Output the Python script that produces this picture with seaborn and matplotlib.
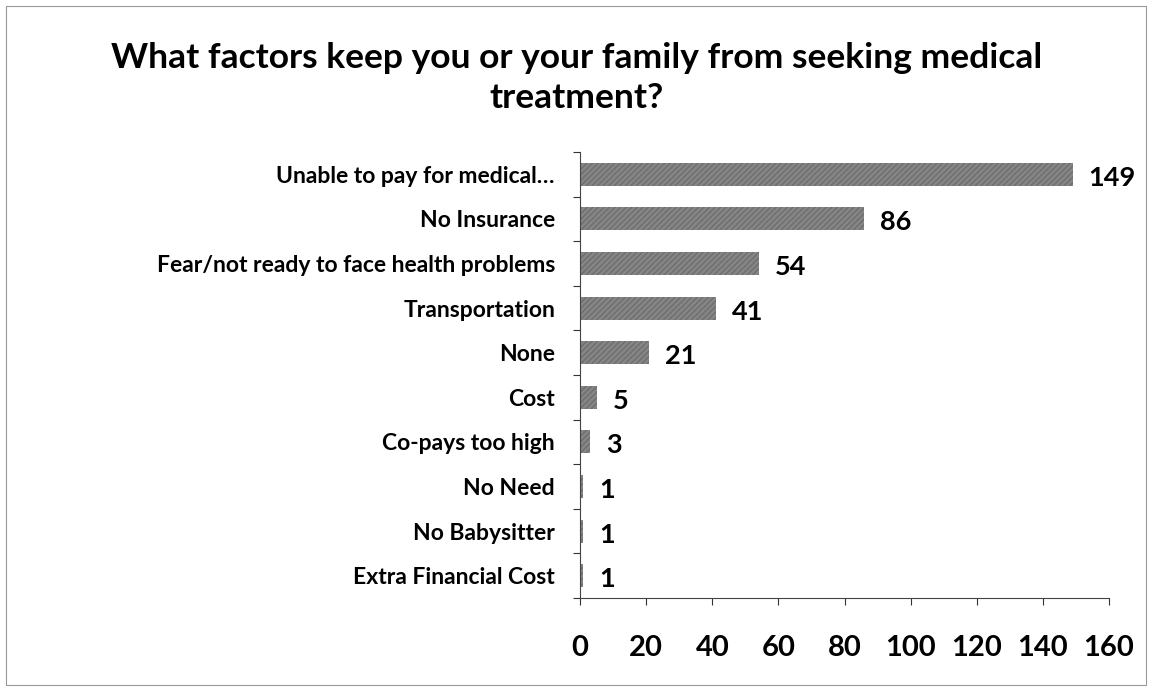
import matplotlib
matplotlib.use("Agg")
import matplotlib.pyplot as plt
import seaborn as sns
import pandas as pd
import numpy as np
from matplotlib.patches import Rectangle

categories = ["Unable to pay for medical…", "No Insurance", "Fear/not ready to face health problems",
              "Transportation", "None", "Cost", "Co-pays too high", "No Need", "No Babysitter",
              "Extra Financial Cost"]
values = [149, 86, 54, 41, 21, 5, 3, 1, 1, 1]
xticks = [0, 20, 40, 60, 80, 100, 120, 140, 160]
title_lines = ["What factors keep you or your family from seeking medical", "treatment?"]

sns.set_theme(style="white")
plt.rcParams['font.family'] = ['Lato', 'DejaVu Sans']
plt.rcParams['hatch.color'] = '#4a4a4a'
plt.rcParams['hatch.linewidth'] = 0.8

df = pd.DataFrame({"category": categories, "value": values})

fig = plt.figure(figsize=(11.54, 6.94), dpi=100)
ax = fig.add_axes([580/1154, 1-598/694, (1109-580)/1154, (598-152)/694])

sns.barplot(data=df, y="category", x="value", orient="h", ax=ax,
            color="#858585", width=0.52, saturation=1, edgecolor="#6a6a6a", linewidth=0)
for p in ax.patches:
    p.set_hatch("//////")

W = "bold"
ax.set_xlim(0, 160)
ax.set_ylim(len(categories) - 0.5, -0.5)
ax.set_xticks(xticks)
ax.set_xticklabels([str(t) for t in xticks], fontsize=21, fontweight=W, color="black")
ax.tick_params(axis="x", direction="out", length=5, width=0.8, color="#333", pad=22, bottom=True)
ax.set_yticks(range(len(categories)))
ax.set_yticklabels(categories, fontsize=16.5, fontweight=W, color="black")
ax.tick_params(axis="y", length=0, pad=18)
ax.set_yticks(np.arange(-0.5, len(categories), 1), minor=True)
ax.tick_params(axis="y", which="minor", direction="out", length=5, width=0.8, color="#333", left=True)
ax.set_xlabel("")
ax.set_ylabel("")
for s in ["top", "right"]:
    ax.spines[s].set_visible(False)
for s in ["left", "bottom"]:
    ax.spines[s].set_color("#444")
    ax.spines[s].set_linewidth(0.8)

for i, v in enumerate(values):
    ax.text(v + 4.8, i + 0.08, str(v), va="center", ha="left", fontsize=19.5, fontweight=W, color="black")

fig.text(0.5, 1-68/694, title_lines[0], ha="center", va="baseline", fontsize=25.5, fontweight=W, color="black")
fig.text(0.5, 1-108/694, title_lines[1], ha="center", va="baseline", fontsize=25.5, fontweight=W, color="black")

fig.patches.append(Rectangle((6/1154, 1-685/694), 1140/1154, 679/694, transform=fig.transFigure,
                             fill=False, edgecolor="#999", linewidth=0.8))

fig.savefig("out.png", dpi=100)
